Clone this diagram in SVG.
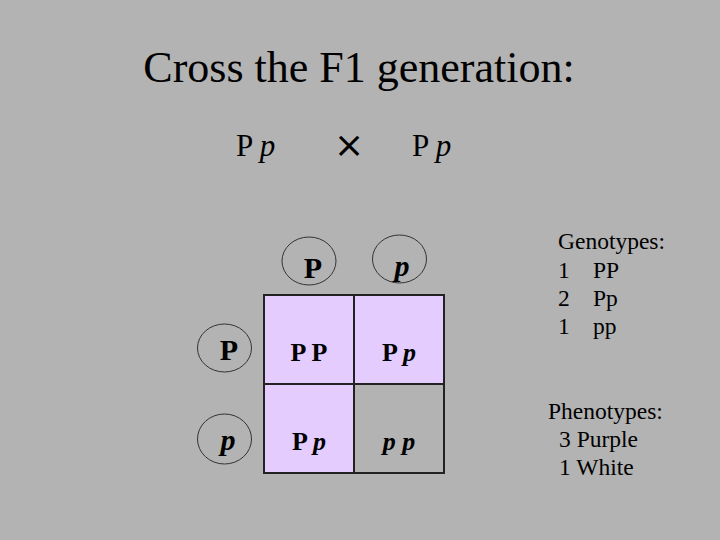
<svg xmlns="http://www.w3.org/2000/svg" width="720" height="540" viewBox="0 0 720 540">
<style>
.t{font-family:"Liberation Serif",serif;fill:#000}
.b{font-weight:bold}
.i{font-style:italic}
.e{fill:none;stroke:#333;stroke-width:1}
.cell{stroke:#222;stroke-width:2}
</style>
<rect width="720" height="540" fill="#b3b3b3"/>
<text class="t" x="359" y="82" font-size="44" text-anchor="middle">Cross the F1 generation:</text>
<g id="cross">
<text class="t" x="236" y="156" font-size="31">P <tspan class="i">p</tspan></text>
<text x="349" y="157" font-size="36" text-anchor="middle" font-family="DejaVu Sans" fill="#000">×</text>
<text class="t" x="412" y="156" font-size="31">P <tspan class="i">p</tspan></text>
</g>
<g id="head-P"><ellipse class="e" cx="309" cy="261" rx="27" ry="24"/><text class="t b" x="313" y="278" font-size="30" text-anchor="middle">P</text></g>
<g id="head-p"><ellipse class="e" cx="399.5" cy="259" rx="27" ry="24"/><text class="t b i" x="402" y="276" font-size="30" text-anchor="middle">p</text></g>
<g id="row-P"><ellipse class="e" cx="224.5" cy="348" rx="27" ry="24"/><text class="t b" x="229" y="360" font-size="30" text-anchor="middle">P</text></g>
<g id="row-p"><ellipse class="e" cx="224.5" cy="439" rx="27" ry="25"/><text class="t b i" x="228" y="450" font-size="30" text-anchor="middle">p</text></g>
<g id="grid">
<rect class="cell" x="264" y="295" width="90" height="89" fill="#e5ccff"/>
<rect class="cell" x="354" y="295" width="90" height="89" fill="#e5ccff"/>
<rect class="cell" x="264" y="384" width="90" height="89" fill="#e5ccff"/>
<rect class="cell" x="354" y="384" width="90" height="89" fill="#b3b3b3"/>
<text class="t b" x="309" y="361" font-size="26" text-anchor="middle">P P</text>
<text class="t b" x="399" y="361" font-size="26" text-anchor="middle">P <tspan class="i">p</tspan></text>
<text class="t b" x="309" y="450" font-size="26" text-anchor="middle">P <tspan class="i">p</tspan></text>
<text class="t b i" x="399" y="450" font-size="26" text-anchor="middle">p p</text>
</g>
<g id="genotypes">
<text class="t" x="558" y="249" font-size="23.5">Genotypes:</text>
<text class="t" x="558" y="278" font-size="23.5">1</text><text class="t" x="593" y="278" font-size="23.5">PP</text>
<text class="t" x="558" y="306" font-size="23.5">2</text><text class="t" x="593" y="306" font-size="23.5">Pp</text>
<text class="t" x="558" y="334" font-size="23.5">1</text><text class="t" x="593" y="334" font-size="23.5">pp</text>
</g>
<g id="phenotypes">
<text class="t" x="548" y="419" font-size="23.5">Phenotypes:</text>
<text class="t" x="559" y="447" font-size="23.5">3 Purple</text>
<text class="t" x="559" y="475" font-size="23.5">1 White</text>
</g>
</svg>
